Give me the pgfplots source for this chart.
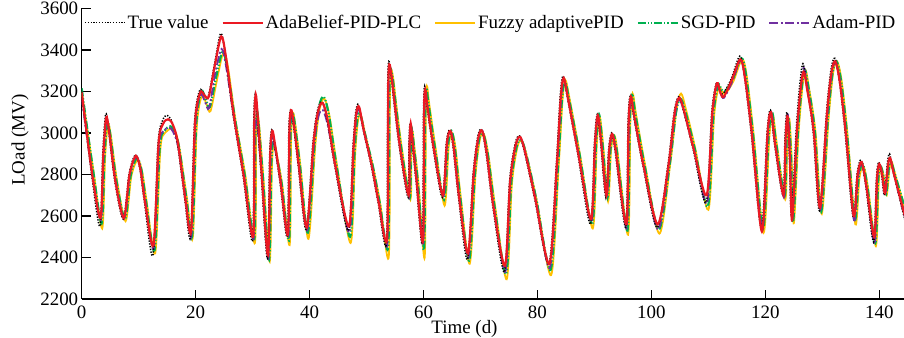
\documentclass[border=0pt]{standalone}
\usepackage{fontspec}
\setmainfont{Liberation Serif}
\usepackage{pgfplots}
\pgfplotsset{compat=1.18}
\definecolor{cRed}{RGB}{235,25,35}
\definecolor{cYel}{RGB}{255,192,0}
\definecolor{cGrn}{RGB}{0,176,80}
\definecolor{cPur}{RGB}{112,48,160}
\begin{document}
\begin{tikzpicture}
\begin{axis}[
  at={(81.7bp,39bp)}, anchor=south west,
  scale only axis, width=822.3bp, height=290.5bp,
  xmin=0, xmax=144.34, ymin=2200, ymax=3600,
  axis x line*=bottom, axis y line*=left,
  axis line style={line width=1.5bp, black},
  xtick={0,20,...,140}, ytick={2200,2400,...,3600},
  tick align=inside, major tick length=9bp,
  tick style={line width=1.3bp, black},
  /pgf/number format/assume math mode=true,
  /pgf/number format/1000 sep={},
  tick label style={font=\fontsize{19}{22}\selectfont},
  xticklabel style={yshift=-3bp},
  xlabel={Time (d)}, ylabel={LOad (MV)},
  label style={font=\fontsize{19}{22}\selectfont},
  xlabel style={at={(axis description cs:0.4655,-0.103)}, anchor=center},
  ylabel style={at={(axis description cs:-0.075,0.547)}, anchor=center},
  legend columns=5,
  legend style={at={(axis description cs:0.0028,0.951)}, anchor=west, draw=none, fill=none,
    font=\fontsize{19}{22}\selectfont, inner sep=0pt,
    /tikz/every even column/.append style={column sep=11bp}},
  legend image code/.code={\draw[#1] (0bp,0bp) -- (40bp,0bp);},
  smooth, tension=0.5,
]
\addlegendimage{black, dash pattern=on 1.3bp off 1.5bp, line width=1.5bp}
\addlegendentry{True value}
\addlegendimage{cRed, line width=2.2bp}
\addlegendentry{AdaBelief-PID-PLC}
\addlegendimage{cYel, line width=1.8bp}
\addlegendentry{Fuzzy adaptivePID}
\addlegendimage{cGrn, line width=2.2bp, dash pattern=on 8bp off 2bp on 1.2bp off 2bp on 1.2bp off 2bp}
\addlegendentry{SGD-PID}
\addlegendimage{cPur, line width=1.8bp, dash pattern=on 9bp off 2.5bp on 2bp off 2.5bp}
\addlegendentry{Adam-PID}

% Fuzzy adaptive PID
\addplot[cYel, line width=1.8bp, forget plot] coordinates {
(0,3200)(2.1,2810)(3.6,2540)(4.1,2880)(4.6,3040)(5.1,2990)(6.2,2770)(7.7,2575)(8.7,2790)(9.8,2870)(10.6,2815)(11.4,2670)(12.9,2420)(13.8,2920)(14.6,3000)(15.8,3021)(16.5,3000)(17.2,2920)(18.5,2680)(19.5,2495)(20.2,3030)(21.1,3180)(21.9,3140)(22.6,3105)(23.7,3250)(24.8,3382)(25.6,3330)(27.0,3060)(28.7,2800)(30.4,2470)(30.6,2990)(30.85,3095)(31.2,3020)(31.9,2780)(33.0,2380)(33.4,2850)(33.75,2950)(34.2,2900)(35.2,2750)(36.5,2460)(36.75,2960)(37.05,3095)(37.5,3040)(38.4,2840)(39.8,2490)(41.0,2940)(41.8,3120)(42.6,3165)(43.5,3080)(44.8,2845)(47.2,2470)(48.0,2900)(48.5,3060)(49.0,3085)(49.8,2990)(51.2,2830)(52.4,2660)(53.9,2405)(54.1,3150)(54.3,3300)(54.7,3260)(55.2,3140)(56.2,2925)(57.7,2680)(57.85,2920)(58.05,3010)(58.4,2930)(59.1,2760)(60.2,2400)(60.4,3080)(60.6,3225)(61.0,3140)(62.1,2930)(63.7,2650)(64.4,2930)(65.0,3000)(65.6,2930)(66.5,2700)(68.1,2370)(69.1,2790)(69.9,2970)(70.6,2995)(71.4,2890)(72.6,2640)(74.6,2295)(75.5,2750)(76.5,2935)(77.3,2960)(78.2,2880)(79.9,2670)(82.4,2315)(83.7,2830)(84.4,3160)(84.9,3255)(85.6,3170)(87.5,2890)(89.7,2540)(90.4,2940)(90.9,3080)(91.5,2950)(92.4,2670)(92.9,2910)(93.4,2990)(94.0,2920)(95.9,2510)(96.3,3050)(96.7,3190)(97.3,3090)(98.9,2845)(101.4,2515)(103.3,2850)(104.4,3110)(105.2,3190)(106.1,3110)(107.7,2925)(110.0,2630)(111.0,3080)(111.8,3220)(112.4,3200)(113.0,3190)(114.4,3250)(115.9,3355)(116.7,3280)(117.9,3005)(119.7,2520)(120.7,2980)(121.3,3090)(122.0,2950)(123.5,2680)(123.85,2960)(124.2,3070)(124.6,2890)(125.0,2565)(125.9,3030)(126.9,3300)(127.7,3210)(128.8,3005)(129.9,2610)(131.1,3070)(131.9,3290)(132.6,3345)(133.4,3250)(134.4,3000)(135.8,2560)(136.5,2780)(137.2,2840)(138.0,2740)(139.4,2455)(139.9,2760)(140.3,2835)(140.8,2790)(141.3,2700)(141.8,2830)(142.2,2860)(142.8,2800)(144.9,2600)
};
% SGD-PID
\addplot[cGrn, line width=2.2bp, dash pattern=on 8bp off 2bp on 1.2bp off 2bp on 1.2bp off 2bp, forget plot] coordinates {
(0,3215)(2.0,2820)(3.5,2565)(4.0,2890)(4.5,3050)(5.0,2995)(6.1,2770)(7.6,2585)(8.6,2795)(9.7,2880)(10.5,2820)(11.3,2670)(12.8,2435)(13.7,2930)(14.5,3010)(15.6,3032)(16.3,3010)(17.1,2930)(18.4,2680)(19.4,2505)(20.1,3040)(21.0,3200)(21.8,3160)(22.5,3125)(23.6,3270)(24.7,3390)(25.5,3320)(26.9,3070)(28.6,2800)(30.3,2490)(30.5,3000)(30.75,3110)(31.1,3030)(31.8,2790)(32.9,2390)(33.3,2860)(33.65,2965)(34.1,2910)(35.1,2755)(36.4,2480)(36.65,2980)(36.95,3100)(37.4,3045)(38.3,2845)(39.7,2520)(40.9,2950)(41.7,3130)(42.5,3175)(43.4,3085)(44.7,2850)(47.1,2500)(47.9,2910)(48.4,3070)(48.9,3090)(49.7,3000)(51.1,2840)(52.3,2665)(53.8,2450)(54.0,3160)(54.2,3305)(54.6,3260)(55.1,3145)(56.1,2925)(57.6,2690)(57.75,2930)(57.95,3020)(58.3,2940)(59.0,2765)(60.1,2440)(60.3,3090)(60.5,3215)(60.9,3135)(62.0,2930)(63.6,2680)(64.3,2940)(64.9,3010)(65.5,2930)(66.4,2700)(68.0,2385)(69.0,2795)(69.8,2975)(70.5,2995)(71.3,2895)(72.5,2640)(74.5,2320)(75.4,2760)(76.4,2940)(77.2,2965)(78.1,2890)(79.8,2680)(82.3,2340)(83.6,2835)(84.3,3160)(84.8,3250)(85.5,3170)(87.4,2895)(89.6,2560)(90.3,2950)(90.8,3090)(91.4,2950)(92.3,2690)(92.8,2915)(93.3,2990)(93.9,2920)(95.8,2530)(96.2,3055)(96.6,3190)(97.2,3090)(98.8,2845)(101.3,2535)(103.2,2845)(104.3,3095)(105.1,3165)(106.0,3100)(107.6,2925)(109.9,2645)(110.9,3090)(111.7,3230)(112.3,3210)(112.9,3200)(114.3,3260)(115.8,3360)(116.6,3280)(117.8,3005)(119.6,2540)(120.6,2995)(121.2,3100)(121.9,2950)(123.4,2700)(123.75,2970)(124.1,3070)(124.5,2890)(124.9,2580)(125.8,3035)(126.8,3300)(127.6,3215)(128.7,3005)(129.8,2620)(131.0,3075)(131.8,3290)(132.5,3345)(133.3,3250)(134.3,3005)(135.7,2585)(136.4,2790)(137.1,2850)(137.9,2745)(139.3,2470)(139.8,2770)(140.2,2840)(140.7,2795)(141.2,2705)(141.7,2835)(142.1,2860)(142.7,2805)(144.8,2610)
};
% Adam-PID
\addplot[cPur, line width=1.8bp, dash pattern=on 9bp off 2.5bp on 2bp off 2.5bp, forget plot] coordinates {
(0,3170)(1.85,2800)(3.35,2580)(3.85,2890)(4.35,3060)(4.85,3000)(5.95,2770)(7.45,2590)(8.45,2800)(9.55,2885)(10.35,2825)(11.15,2670)(12.65,2445)(13.55,2935)(14.35,3010)(15.4,3025)(16.05,3005)(16.95,2930)(18.25,2680)(19.25,2505)(19.95,3040)(20.85,3185)(21.65,3150)(22.35,3120)(23.45,3290)(24.55,3405)(25.35,3320)(26.75,3070)(28.45,2800)(30.15,2490)(30.35,2970)(30.6,3060)(30.95,3000)(31.65,2780)(32.75,2395)(33.15,2880)(33.5,2975)(33.95,2920)(34.95,2760)(36.25,2500)(36.5,2980)(36.8,3090)(37.25,3035)(38.15,2840)(39.55,2530)(40.75,2940)(41.55,3080)(42.35,3110)(43.25,3030)(44.55,2840)(46.95,2520)(47.75,2920)(48.25,3085)(48.75,3110)(49.55,3005)(50.95,2840)(52.15,2670)(53.65,2465)(53.85,3180)(54.05,3320)(54.45,3265)(54.95,3145)(55.95,2925)(57.45,2690)(57.6,2940)(57.8,3030)(58.15,2945)(58.85,2765)(59.95,2460)(60.15,3080)(60.35,3200)(60.75,3120)(61.85,2925)(63.45,2690)(64.15,2945)(64.75,3005)(65.35,2925)(66.25,2700)(67.85,2400)(68.85,2800)(69.65,2975)(70.35,3010)(71.15,2895)(72.35,2640)(74.35,2330)(75.25,2760)(76.25,2945)(77.05,2975)(77.95,2895)(79.65,2685)(82.15,2350)(83.45,2840)(84.15,3165)(84.65,3255)(85.35,3170)(87.25,2895)(89.45,2570)(90.15,2945)(90.65,3080)(91.25,2945)(92.15,2690)(92.65,2915)(93.15,2990)(93.75,2915)(95.65,2540)(96.05,3030)(96.45,3160)(97.05,3065)(98.65,2840)(101.15,2535)(103.05,2840)(104.15,3090)(104.95,3160)(105.85,3090)(107.45,2920)(109.75,2660)(110.75,3095)(111.55,3235)(112.15,3190)(112.75,3170)(114.15,3245)(115.65,3350)(116.45,3265)(117.65,3000)(119.45,2545)(120.45,2995)(121.05,3100)(121.75,2945)(123.25,2690)(123.6,2975)(123.95,3090)(124.35,2895)(124.75,2600)(125.65,3040)(126.65,3310)(127.45,3210)(128.55,3000)(129.65,2630)(130.85,3075)(131.65,3285)(132.35,3340)(133.15,3240)(134.15,3000)(135.55,2580)(136.25,2785)(136.95,2845)(137.75,2740)(139.15,2465)(139.65,2775)(140.05,2850)(140.55,2795)(141.05,2700)(141.55,2835)(141.95,2875)(142.55,2805)(144.65,2570)
};
% True value
\addplot[black, dash pattern=on 1.3bp off 1.5bp, line width=1.5bp, forget plot] coordinates {
(0,3200)(1.7,2810)(3.2,2550)(3.7,2900)(4.2,3090)(4.7,3020)(5.8,2770)(7.3,2585)(8.3,2800)(9.4,2895)(10.2,2830)(11.0,2670)(12.5,2410)(13.4,2950)(14.2,3060)(15.0,3085)(15.9,3050)(16.8,2950)(18.1,2680)(19.1,2500)(19.8,3050)(20.7,3205)(21.5,3185)(22.2,3175)(23.3,3330)(24.4,3480)(25.2,3380)(26.6,3085)(28.3,2800)(30.0,2480)(30.2,3050)(30.45,3185)(30.8,3080)(31.5,2800)(32.6,2395)(33.0,2900)(33.35,3015)(33.8,2950)(34.8,2765)(36.1,2500)(36.35,3000)(36.65,3110)(37.1,3050)(38.0,2845)(39.4,2535)(40.6,2955)(41.4,3110)(42.2,3150)(43.1,3060)(44.4,2845)(46.8,2530)(47.6,2925)(48.1,3100)(48.6,3135)(49.4,3020)(50.8,2845)(52.0,2670)(53.5,2470)(53.7,3200)(53.9,3345)(54.3,3280)(54.8,3150)(55.8,2925)(57.3,2690)(57.45,2950)(57.65,3045)(58.0,2950)(58.7,2765)(59.8,2470)(60.0,3100)(60.2,3225)(60.6,3130)(61.7,2925)(63.3,2690)(64.0,2950)(64.6,3015)(65.2,2930)(66.1,2700)(67.7,2390)(68.7,2800)(69.5,2980)(70.2,3015)(71.0,2900)(72.2,2640)(74.2,2330)(75.1,2765)(76.1,2950)(76.9,2985)(77.8,2900)(79.5,2685)(82.0,2370)(83.3,2845)(84.0,3180)(84.5,3275)(85.2,3180)(87.1,2895)(89.3,2560)(90.0,2950)(90.5,3090)(91.1,2950)(92.0,2690)(92.5,2920)(93.0,3000)(93.6,2920)(95.5,2545)(95.9,3050)(96.3,3180)(96.9,3080)(98.5,2845)(101.0,2545)(102.9,2845)(104.0,3100)(104.8,3175)(105.7,3100)(107.3,2925)(109.6,2665)(110.6,3100)(111.4,3240)(112.0,3205)(112.6,3190)(114.0,3260)(115.5,3370)(116.3,3280)(117.5,3005)(119.3,2540)(120.3,3000)(120.9,3110)(121.6,2950)(123.1,2700)(123.45,2980)(123.8,3100)(124.2,2900)(124.6,2600)(125.5,3050)(126.5,3330)(127.3,3220)(128.4,3005)(129.5,2625)(130.7,3085)(131.5,3300)(132.2,3360)(133.0,3250)(134.0,3005)(135.4,2595)(136.1,2800)(136.8,2870)(137.6,2750)(139.0,2475)(139.5,2780)(139.9,2860)(140.4,2800)(140.9,2700)(141.4,2850)(141.8,2900)(142.4,2820)(144.5,2580)
};
% AdaBelief-PID-PLC
\addplot[cRed, line width=2.2bp, forget plot] coordinates {
(0,3195)(1.8,2810)(3.3,2590)(3.8,2900)(4.3,3075)(4.8,3010)(5.9,2770)(7.4,2590)(8.4,2800)(9.5,2890)(10.3,2825)(11.1,2670)(12.6,2460)(13.5,2950)(14.3,3045)(15.2,3066)(16.0,3040)(16.9,2950)(18.2,2680)(19.2,2525)(19.9,3050)(20.8,3195)(21.6,3180)(22.3,3175)(23.4,3330)(24.5,3465)(25.3,3370)(26.7,3085)(28.4,2800)(30.1,2500)(30.3,3050)(30.55,3185)(30.9,3080)(31.6,2800)(32.7,2410)(33.1,2900)(33.45,3010)(33.9,2950)(34.9,2765)(36.2,2510)(36.45,3000)(36.75,3110)(37.2,3050)(38.1,2845)(39.5,2545)(40.7,2955)(41.5,3105)(42.3,3145)(43.2,3060)(44.5,2845)(46.9,2550)(47.7,2925)(48.2,3095)(48.7,3125)(49.5,3015)(50.9,2845)(52.1,2670)(53.6,2490)(53.8,3200)(54.0,3330)(54.4,3270)(54.9,3150)(55.9,2925)(57.4,2700)(57.55,2950)(57.75,3045)(58.1,2950)(58.8,2765)(59.9,2480)(60.1,3100)(60.3,3210)(60.7,3125)(61.8,2925)(63.4,2700)(64.1,2950)(64.7,3010)(65.3,2930)(66.2,2700)(67.8,2420)(68.8,2800)(69.6,2975)(70.3,3010)(71.1,2900)(72.3,2640)(74.3,2360)(75.2,2765)(76.2,2945)(77.0,2980)(77.9,2900)(79.6,2685)(82.1,2370)(83.4,2845)(84.1,3175)(84.6,3265)(85.3,3175)(87.2,2895)(89.4,2585)(90.1,2950)(90.6,3085)(91.2,2950)(92.1,2700)(92.6,2920)(93.1,2995)(93.7,2920)(95.6,2560)(96.0,3050)(96.4,3175)(97.0,3080)(98.6,2845)(101.1,2560)(103.0,2845)(104.1,3100)(104.9,3170)(105.8,3100)(107.4,2925)(109.7,2700)(110.7,3100)(111.5,3240)(112.1,3195)(112.7,3175)(114.1,3255)(115.6,3355)(116.4,3270)(117.6,3005)(119.4,2525)(120.4,3000)(121.0,3100)(121.7,2950)(123.2,2700)(123.55,2970)(123.9,3080)(124.3,2890)(124.7,2580)(125.6,3030)(126.6,3290)(127.4,3200)(128.5,3005)(129.6,2640)(130.8,3085)(131.6,3290)(132.3,3345)(133.1,3240)(134.1,3005)(135.5,2600)(136.2,2800)(136.9,2860)(137.7,2750)(139.1,2500)(139.6,2780)(140.0,2850)(140.5,2800)(141.0,2710)(141.5,2840)(141.9,2880)(142.5,2810)(144.6,2590)
};
\end{axis}
\pgfresetboundingbox
\path[use as bounding box] (0,0) rectangle (904bp,338bp);
\end{tikzpicture}
\end{document}
